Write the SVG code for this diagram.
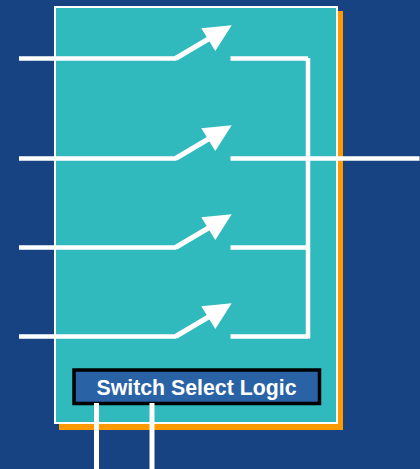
<svg xmlns="http://www.w3.org/2000/svg" width="420" height="469" viewBox="0 0 420 469">
<style>
.w{stroke:#fff;stroke-width:4.500;fill:none}
.a{stroke:#fff;stroke-width:5;fill:none}
.h{fill:#fff}
.t{font-family:"Liberation Sans",Arial,sans-serif;font-weight:bold;font-size:21.300px;fill:#fff;text-anchor:middle}
</style>
<defs>
<g id="sw">
<path class="a" d="M175.500 0L211 -21"/>
<polygon class="h" points="201.3,-30.2 231.7,-33.2 215.3,-7.5"/>
</g>
</defs>
<rect width="420" height="469" fill="#174382"/>
<g id="panel">
<rect x="59" y="11" width="284" height="419" fill="#ff9900"/>
<rect x="55" y="7" width="282" height="416" fill="#31babd" stroke="#fff" stroke-width="2"/>
</g>
<g id="logic">
<rect x="74" y="370" width="245.500" height="33.500" fill="#2a62a6" stroke="#000" stroke-width="3.500"/>
<text class="t" x="196.500" y="395">Switch Select Logic</text>
</g>
<g id="connectors">
<path class="w" d="M19 58.500H176M19 158.500H176M19 247.500H176M19 336.500H176"/>
<path class="w" d="M230.500 58.500H308M230.500 158.500H419.500M230.500 247.500H308M230.500 336.500H308"/>
<path class="w" d="M308 58V338.500"/>
<path class="a" d="M96.500 403V469M152 403V469"/>
</g>
<g id="switch1"><use href="#sw" x="0" y="58.500"/></g>
<g id="switch2"><use href="#sw" x="0" y="158.500"/></g>
<g id="switch3"><use href="#sw" x="0" y="247.500"/></g>
<g id="switch4"><use href="#sw" x="0" y="336.500"/></g>
</svg>
